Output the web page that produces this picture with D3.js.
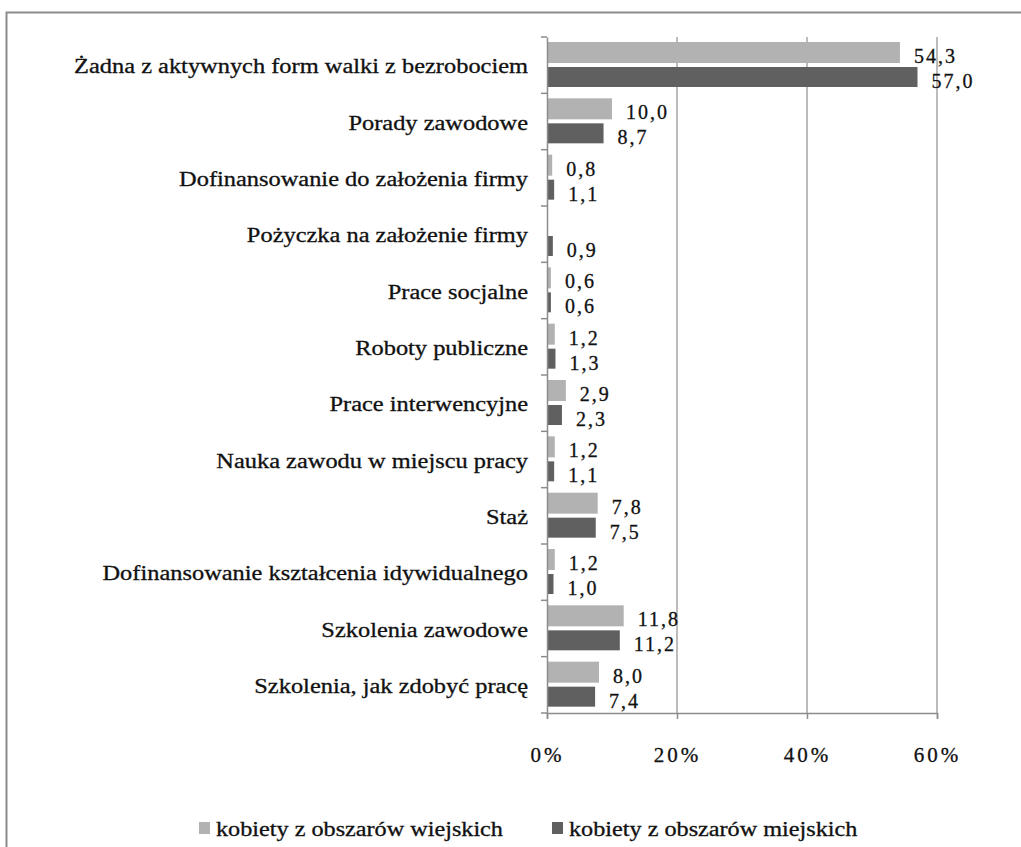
<!DOCTYPE html>
<html>
<head>
<meta charset="utf-8">
<script src="https://cdn.jsdelivr.net/npm/d3@7"></script>
<style>
  html, body { margin: 0; padding: 0; background: #fff; }
  svg { display: block; }
  text { font-family: "Liberation Serif", "Times New Roman", serif; fill: #111; stroke: #111; stroke-width: 0.3px; }
</style>
</head>
<body>
<svg id="chart" width="1021" height="847"></svg>
<script>
// Categories, top to bottom
const categories = [
  "Żadna z aktywnych form walki z bezrobociem",
  "Porady zawodowe",
  "Dofinansowanie do założenia firmy",
  "Pożyczka na założenie firmy",
  "Prace socjalne",
  "Roboty publiczne",
  "Prace interwencyjne",
  "Nauka zawodu w miejscu pracy",
  "Staż",
  "Dofinansowanie kształcenia idywidualnego",
  "Szkolenia zawodowe",
  "Szkolenia, jak zdobyć pracę"
];
// Percent values per series (null label = not printed)
const rural = [54.3, 10.0, 0.8, 0, 0.6, 1.2, 2.9, 1.2, 7.8, 1.2, 11.8, 8.0];
const ruralLabels = ["54,3", "10,0", "0,8", null, "0,6", "1,2", "2,9", "1,2", "7,8", "1,2", "11,8", "8,0"];
const urban = [57.0, 8.7, 1.1, 0.9, 0.6, 1.3, 2.3, 1.1, 7.5, 1.0, 11.2, 7.4];
const urbanLabels = ["57,0", "8,7", "1,1", "0,9", "0,6", "1,3", "2,3", "1,1", "7,5", "1,0", "11,2", "7,4"];
const xTicks = [0, 20, 40, 60];
const seriesNames = ["kobiety z obszarów wiejskich", "kobiety z obszarów miejskich"];
const colors = ["#b2b2b2", "#606060"];

const svg = d3.select("#chart");

// Widen glyphs horizontally by factor k
function stretch(sel, k) {
  sel.each(function () {
    const len = this.getComputedTextLength();
    d3.select(this).attr("textLength", len * k).attr("lengthAdjust", "spacingAndGlyphs");
  });
}

// Outer frame
svg.append("path")
  .attr("d", "M6.5,847 V12.5 H1021")
  .attr("fill", "none")
  .attr("stroke", "#8c8c8c")
  .attr("stroke-width", 2);

const plot = { left: 547, right: 937, top: 37, bottom: 713 };

const x = d3.scaleLinear().domain([0, 60]).range([plot.left, plot.right]);
const y = d3.scaleBand().domain(categories).range([plot.top, plot.bottom]);
const bw = y.bandwidth();
const barH = 21;

// Vertical gridlines
svg.append("g").selectAll("line")
  .data(xTicks.slice(1))
  .join("line")
  .attr("x1", d => x(d)).attr("x2", d => x(d))
  .attr("y1", plot.top).attr("y2", plot.bottom)
  .attr("stroke", "#a6a6a6").attr("stroke-width", 1.5);

// Bars and value labels
const g = svg.append("g");
categories.forEach((c, i) => {
  const y0 = y(c);
  const yR = y0 + 5, yU = y0 + 30;
  g.append("rect")
    .attr("x", x(0)).attr("y", yR)
    .attr("width", x(rural[i]) - x(0)).attr("height", barH)
    .attr("fill", colors[0]);
  g.append("rect")
    .attr("x", x(0)).attr("y", yU)
    .attr("width", x(urban[i]) - x(0)).attr("height", barH - 1)
    .attr("fill", colors[1]);
  if (ruralLabels[i]) {
    g.append("text")
      .attr("x", x(rural[i]) + 14).attr("y", yR + barH)
      .attr("font-size", 20).attr("letter-spacing", 2)
      .text(ruralLabels[i]);
  }
  if (urbanLabels[i]) {
    g.append("text")
      .attr("x", x(urban[i]) + 14).attr("y", yU + barH)
      .attr("font-size", 20).attr("letter-spacing", 2)
      .text(urbanLabels[i]);
  }
});

// Category axis
const yAxis = svg.append("g")
  .attr("transform", `translate(${plot.left},0)`)
  .call(d3.axisLeft(y).tickSize(0).tickPadding(19));
yAxis.select(".domain").attr("stroke", "#8c8c8c").attr("stroke-width", 1.5);
yAxis.selectAll("text")
  .attr("font-size", 20)
  .attr("dy", "0.4em")
  .call(stretch, 1.22);
// Band separator ticks
svg.append("g").selectAll("line")
  .data(d3.range(categories.length + 1))
  .join("line")
  .attr("x1", plot.left - 6).attr("x2", plot.left)
  .attr("y1", i => plot.top + i * bw).attr("y2", i => plot.top + i * bw)
  .attr("stroke", "#8c8c8c").attr("stroke-width", 1.5);

// Value axis
const xAxis = svg.append("g")
  .attr("transform", `translate(0,${plot.bottom})`)
  .call(d3.axisBottom(x).tickValues(xTicks).tickSize(6).tickPadding(28).tickFormat(d => d + "%"));
xAxis.select(".domain").attr("stroke", "#8c8c8c").attr("stroke-width", 1.5);
xAxis.selectAll(".tick line").attr("stroke", "#8c8c8c").attr("stroke-width", 1.5);
xAxis.selectAll("text")
  .attr("font-size", 21)
  .attr("letter-spacing", 3);

// Legend
const legendX = [199, 552];
seriesNames.forEach((name, i) => {
  const lg = svg.append("g").attr("transform", `translate(${legendX[i]},822)`);
  lg.append("rect").attr("x", 0).attr("y", 0).attr("width", 11).attr("height", 12).attr("fill", colors[i]);
  lg.append("text").attr("x", 17).attr("y", 14).attr("font-size", 20).text(name)
    .call(stretch, 1.21);
});
</script>
</body>
</html>
